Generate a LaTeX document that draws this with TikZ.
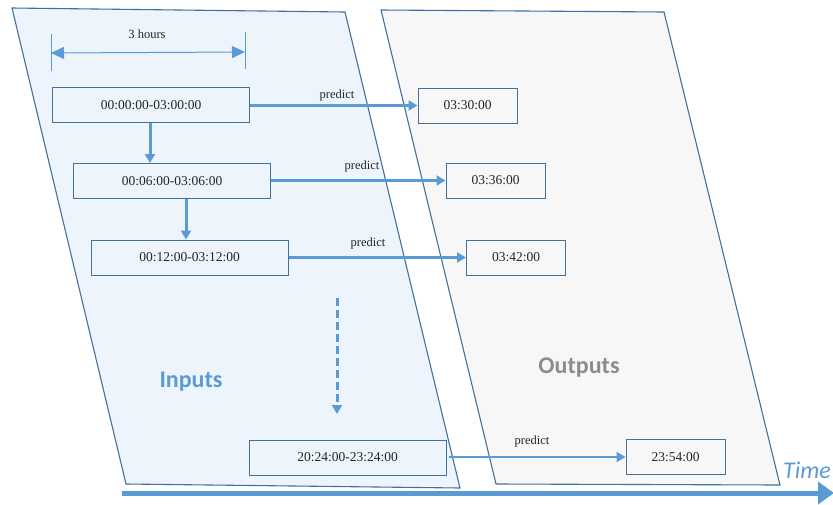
\documentclass[tikz,border=0pt]{standalone}
\usepackage{fontspec}
\setmainfont{Liberation Serif}
\newfontfamily\labelsans{Carlito}
\usetikzlibrary{arrows.meta}
\definecolor{panelblue}{HTML}{EEF4FC}
\definecolor{panelgray}{HTML}{F7F7F7}
\definecolor{edgeblue}{HTML}{41719C}
\definecolor{flowblue}{HTML}{5B9BD5}
\definecolor{txtgray}{HTML}{262626}
\definecolor{titlegray}{HTML}{8C8C8C}
\tikzset{
  panel/.style={draw=edgeblue, line width=1.1pt},
  slot/.style={draw=edgeblue, line width=1pt, minimum height=35pt, inner sep=0pt,
    font=\fontsize{13.5}{15}\selectfont, text=txtgray},
  inslot/.style={slot, minimum width=197pt},
  outslot/.style={slot, minimum width=99pt},
  flow/.style={draw=flowblue, line width=3pt, -{Triangle[length=9pt,width=10pt]}},
  tag/.style={font=\fontsize{12.5}{14}\selectfont, text=txtgray},
  bigtitle/.style={font=\labelsans\bfseries\fontsize{24}{28}\selectfont}
}
\begin{document}
\begin{tikzpicture}[x=1pt,y=-1pt]
\useasboundingbox (0,0) rectangle (833,504);
\begin{scope}
\clip (0,0) rectangle (833,504);

% input and output panels
\draw[panel, fill=panelblue] (12,8) -- (345,12) -- (460,488) -- (126,484) -- cycle;
\draw[panel, fill=panelgray] (381,10) -- (664,12) -- (780,485) -- (496,484) -- cycle;

% window length
\draw[flowblue, line width=1pt] (51,34) -- (51,71);
\draw[flowblue, line width=1pt] (245,32) -- (245,69);
\coordinate (wl) at (51,53);
\coordinate (wr) at (245,52);
\draw[flowblue, line width=1pt, {Triangle[length=13pt,width=12pt]}-{Triangle[length=13pt,width=12pt]}] (wl) -- (wr);
\node[tag] (span) at (147,34) {3 hours};

% input windows
\node[inslot] (b1) at (151,105) {00:00:00-03:00:00};
\node[inslot] (b2) at (172,181) {00:06:00-03:06:00};
\node[inslot] (b3) at (189.5,257.5) {00:12:00-03:12:00};
\node[inslot] (b4) at (347.5,457.5) {20:24:00-23:24:00};

% predicted instants
\node[outslot] (o1) at (467.5,105.5) {03:30:00};
\node[outslot] (o2) at (495.5,180.5) {03:36:00};
\node[outslot] (o3) at (516,257.5) {03:42:00};
\node[outslot] (o4) at (675.5,457) {23:54:00};

% sliding of the window
\draw[flow] (b1.south -| 150,0) -- (b2.north -| 150,0);
\draw[flow] (b2.south -| 186,0) -- (b3.north -| 186,0);
\coordinate (d1) at (337,298);
\coordinate (d2) at (337,414);
\draw[flow, dash pattern=on 8pt off 4pt] (d1) -- (d2);

% prediction links
\draw[flow] (b1.east |- o1) -- (o1.west);
\draw[flow] (b2.east |- o2) -- (o2.west);
\draw[flow] (b3.east |- o3) -- (o3.west);
\draw[flow, line width=2.4pt] ([xshift=2pt]b4.east |- o4) -- (o4.west);
\node[tag] (p1) at (337,95) {predict};
\node[tag] (p2) at (362,166) {predict};
\node[tag] (p3) at (368,243) {predict};
\node[tag] (p4) at (532,441) {predict};

% panel titles
\node[bigtitle, text=flowblue] (inputs) at (191,382) {Inputs};
\node[bigtitle, text=titlegray] (outputs) at (579,368) {Outputs};

% time axis
\coordinate (t0) at (122,493);
\coordinate (t1) at (834,493);
\draw[flowblue, line width=5pt, -{Triangle[length=16pt,width=22pt]}] (t0) -- (t1);
\node[anchor=base east, inner sep=0pt, text=flowblue,
  font=\labelsans\itshape\fontsize{24}{28}\selectfont] (time) at (831,478) {Time};
\end{scope}
\end{tikzpicture}
\end{document}
